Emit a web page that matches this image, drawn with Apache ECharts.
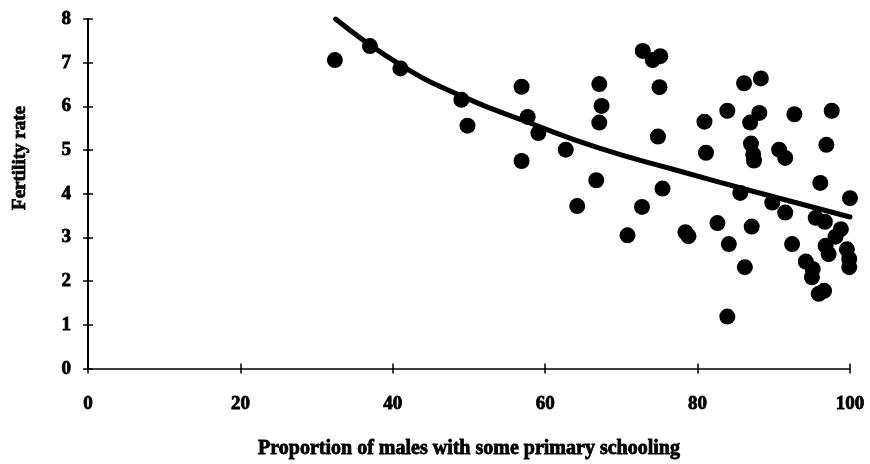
<!DOCTYPE html>
<html>
<head>
<meta charset="utf-8">
<script src="https://cdn.jsdelivr.net/npm/echarts@6/dist/echarts.min.js"></script>
<style>
  html, body { margin: 0; padding: 0; background: #fff; }
  #chart { width: 870px; height: 464px; }
</style>
</head>
<body>
<div id="chart"></div>
<script>
// Male primary schooling (%) vs. fertility rate, one point per country
const schooling = [
  32.4, 37.0, 41.0, 49.0, 49.8, 56.9, 56.9, 57.7, 59.1, 62.7,
  64.2, 66.7, 67.1, 67.4, 67.1, 70.8, 72.7, 72.8, 74.1, 75.1,
  75.0, 74.8, 75.4, 78.4, 78.8, 80.9, 81.1, 82.6, 83.9, 84.1,
  83.9, 85.6, 86.1, 86.2, 86.9, 87.0, 87.3, 87.4, 87.1, 88.3,
  88.1, 89.8, 90.7, 91.5, 91.5, 92.7, 92.4, 94.2, 95.0, 95.1,
  95.5, 95.9, 96.1, 96.6, 96.7, 96.8, 96.9, 97.2, 97.6, 98.1,
  98.8, 99.6, 99.9, 99.9, 100.0
];
const fertility = [
  7.06, 7.38, 6.87, 6.15, 5.56, 6.45, 4.75, 5.76, 5.39, 5.01,
  3.72, 4.31, 6.51, 6.01, 5.63, 3.05, 3.70, 7.27, 7.06, 7.15,
  6.44, 5.31, 4.12, 3.12, 3.03, 5.65, 4.94, 3.33, 5.90, 2.85,
  1.19, 4.02, 6.53, 2.32, 5.63, 5.15, 4.90, 4.76, 3.25, 6.64,
  5.85, 3.80, 5.01, 4.82, 3.57, 5.82, 2.85, 2.45, 2.09, 2.28,
  3.45, 1.71, 4.25, 1.78, 3.36, 2.81, 5.12, 2.62, 5.90, 3.02,
  3.19, 2.73, 2.51, 2.32, 3.90
];

// Fitted trend curve
const trendX = [32.5, 41.0, 49.1, 58.0, 67.0, 77.0, 87.0, 100.0];
const trendY = [8.00, 6.95, 6.23, 5.62, 5.05, 4.55, 4.07, 3.47];

const xTicks = [0, 20, 40, 60, 80, 100];
const yTicks = [0, 1, 2, 3, 4, 5, 6, 7, 8];

const FONT = '"Liberation Serif", "DejaVu Serif", serif';
const heavyText = { fontFamily: FONT, fontWeight: 'bold', color: '#000', textBorderColor: '#000', textBorderWidth: 0.8 };

const points = schooling.map((x, i) => [x, fertility[i]]);
const trend = trendX.map((x, i) => [x, trendY[i]]);

const chart = echarts.init(document.getElementById('chart'), null, { renderer: 'canvas' });

const baseX = {
  type: 'value',
  min: xTicks[0],
  max: xTicks[xTicks.length - 1],
  interval: 20,
  splitLine: { show: false }
};
const baseY = {
  type: 'value',
  min: yTicks[0],
  max: yTicks[yTicks.length - 1],
  interval: 1,
  splitLine: { show: false }
};

chart.setOption({
  backgroundColor: '#ffffff',
  animation: false,
  grid: { left: 88, right: 20, top: 19, bottom: 94, containLabel: false },
  xAxis: [
    Object.assign({}, baseX, {
      position: 'bottom',
      name: 'Proportion of males with some primary schooling',
      nameLocation: 'middle',
      nameGap: 70,
      nameTextStyle: Object.assign({ fontSize: 20 }, heavyText),
      axisLine: { show: true, lineStyle: { color: '#000', width: 1.5 } },
      axisTick: { show: true, inside: false, length: 5, lineStyle: { color: '#000', width: 1.5 } },
      axisLabel: Object.assign({ margin: 26, fontSize: 19 }, heavyText)
    }),
    Object.assign({}, baseX, {
      position: 'bottom',
      axisLine: { show: false },
      axisTick: { show: true, inside: true, length: 5, lineStyle: { color: '#000', width: 1.5 } },
      axisLabel: { show: false }
    })
  ],
  yAxis: [
    Object.assign({}, baseY, {
      position: 'left',
      axisLine: { show: true, lineStyle: { color: '#000', width: 2 } },
      axisTick: { show: true, inside: false, length: 5, lineStyle: { color: '#000', width: 1.5 } },
      axisLabel: Object.assign({ margin: 17, fontSize: 19 }, heavyText)
    }),
    Object.assign({}, baseY, {
      position: 'left',
      axisLine: { show: false },
      axisTick: { show: true, inside: true, length: 5, lineStyle: { color: '#000', width: 1.5 } },
      axisLabel: { show: false }
    })
  ],
  graphic: [{
    type: 'text',
    x: 20,
    y: 158,
    rotation: Math.PI / 2,
    style: {
      text: 'Fertility rate',
      fontFamily: FONT,
      fontWeight: 'bold',
      fontSize: 19,
      fill: '#000',
      stroke: '#000',
      lineWidth: 0.8,
      align: 'center',
      verticalAlign: 'middle'
    }
  }],
  series: [
    {
      type: 'scatter',
      xAxisIndex: 0,
      yAxisIndex: 0,
      data: points,
      symbol: 'circle',
      symbolSize: 16,
      itemStyle: { color: '#000', opacity: 1 },
      z: 3
    },
    {
      type: 'line',
      xAxisIndex: 0,
      yAxisIndex: 0,
      data: trend,
      smooth: true,
      showSymbol: false,
      lineStyle: { color: '#000', width: 5, cap: 'round' },
      z: 4
    }
  ]
});
</script>
</body>
</html>
